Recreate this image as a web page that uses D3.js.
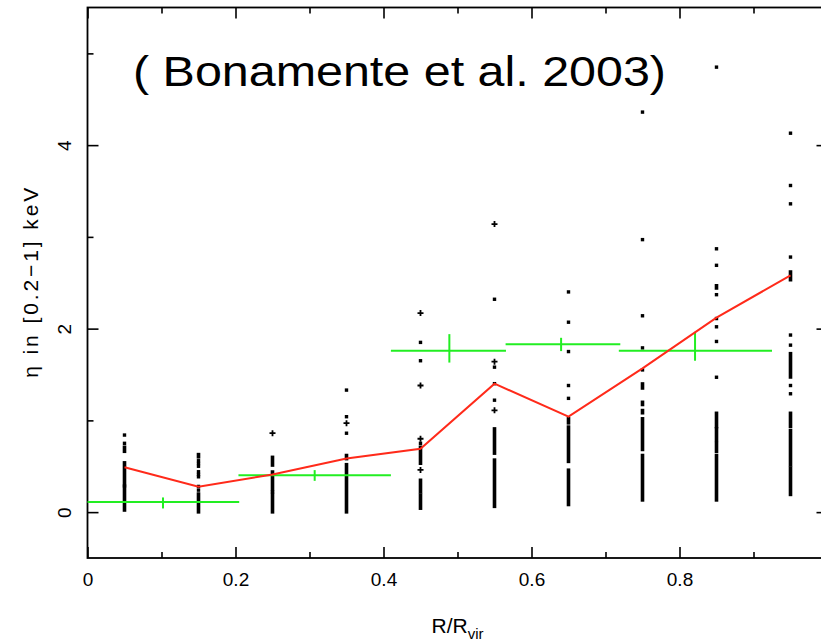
<!DOCTYPE html>
<html>
<head>
<meta charset="utf-8">
<script src="https://d3js.org/d3.v7.min.js"></script>
<style>
  body { margin: 0; background: #fff; }
  svg { display: block; }
</style>
</head>
<body>
<div id="viz"></div>
<script>
// bin centres in R/Rvir
const columns = [0.05, 0.15, 0.25, 0.35, 0.45, 0.55, 0.65, 0.75, 0.85, 0.95];

// single points for each column (value of eta)
const colPoints = [
  [0.84, 0.75, 0.285],
  [0.56, 0.53, 0.50, 0.44, 0.41, 0.385, 0.28, 0.24],
  [0.22],
  [1.33, 1.04, 0.86],
  [1.85, 1.65, 0.75],
  [2.32, 1.58, 1.40, 1.22],
  [2.40, 2.07, 1.75, 1.38, 1.24],
  [4.36, 2.97, 2.14, 1.79, 1.55],
  [4.85, 2.87, 2.69, 2.37, 2.11, 2.02, 1.86, 1.47],
  [4.13, 3.56, 3.36, 2.78, 1.93, 1.82, 1.38, 1.29]
];
// points drawn with a "+" symbol
const colPlus = [
  [],
  [],
  [0.86],
  [0.97],
  [2.17, 1.38, 0.80, 0.46],
  [3.14, 1.64, 1.11],
  [],
  [],
  [],
  []
];
// dense runs of points [low, high]
const colRuns = [
  [[0.66, 0.71], [0.30, 0.54], [0.02, 0.27]],
  [[0.60, 0.63], [0.0, 0.20]],
  [[0.51, 0.60], [0.24, 0.44], [0.0, 0.20]],
  [[0.58, 0.62], [0.0, 0.52]],
  [[0.53, 0.71], [0.22, 0.35], [0.04, 0.19]],
  [[0.64, 0.91], [0.06, 0.57]],
  [[0.97, 1.02], [0.55, 0.93], [0.08, 0.46]],
  [[1.35, 1.40], [1.17, 1.20], [1.08, 1.11], [0.68, 1.02], [0.13, 0.62]],
  [[2.44, 2.47], [0.93, 1.08], [0.78, 0.91], [0.66, 0.75], [0.13, 0.62]],
  [[2.53, 2.62], [1.47, 1.73], [0.93, 1.08], [0.51, 0.89], [0.19, 0.48]]
];

// red curve (mean per bin)
const meanX = [0.05, 0.15, 0.25, 0.35, 0.45, 0.55, 0.65, 0.75, 0.85, 0.95];
const meanY = [0.49, 0.276, 0.41, 0.585, 0.69, 1.40, 1.04, 1.566, 2.12, 2.58];

// green measurements (Bonamente et al. 2003)
const obsX = [0.102, 0.307, 0.489, 0.64, 0.821];
const obsXLo = [0.0, 0.204, 0.41, 0.565, 0.718];
const obsXHi = [0.205, 0.41, 0.5655, 0.72, 0.925];
const obsY = [0.11, 0.403, 1.76, 1.83, 1.76];
const obsYLo = [0.04, 0.341, 1.63, 1.755, 1.65];
const obsYHi = [0.16, 0.458, 1.94, 1.90, 1.965];

// axis ticks (the tick at 1 sits just past the right edge, no label shown)
const xMajor = [0, 0.2, 0.4, 0.6, 0.8, 1.0];
const xMajorLabels = ["0", "0.2", "0.4", "0.6", "0.8", ""];
const xMinor = [0.1, 0.3, 0.5, 0.7, 0.9];
const yMajor = [0, 2, 4];
const yMajorLabels = ["0", "2", "4"];
const yMinor = [1, 3, 5];

const width = 821;
const height = 643;
const axisFont = "'Liberation Sans', Arial, sans-serif";

const svg = d3.select('#viz')
  .append('svg')
  .attr('width', width)
  .attr('height', height);

const x = d3.scaleLinear().domain([0, 1]).range([87.5, 827.5]);
const y = d3.scaleLinear().domain([-0.5, 5.5]).range([558, 7.5]);

// ticks on all four sides, pointing inwards
const drawAxis = (axisFn, pos, values, size, labels) => {
  const ax = axisFn.tickValues(values).tickSize(-size)
    .tickFormat((d, i) => labels ? labels[i] : '');
  const g = svg.append('g').attr('transform', pos).call(ax);
  g.select('.domain').remove();
  g.selectAll('.tick line').attr('stroke', '#000').attr('stroke-width', 1.6);
  g.selectAll('text').attr('fill', '#000').style('font-family', axisFont).style('font-size', '19px');
  return g;
};

const bottom = drawAxis(d3.axisBottom(x), `translate(0,${y(-0.5)})`, xMajor, 11, xMajorLabels);
bottom.selectAll('text').attr('dy', null).attr('y', 28);
drawAxis(d3.axisBottom(x), `translate(0,${y(-0.5)})`, xMinor, 6);
drawAxis(d3.axisTop(x), `translate(0,${y(5.5)})`, xMajor, 11);
drawAxis(d3.axisTop(x), `translate(0,${y(5.5)})`, xMinor, 6);

const left = drawAxis(d3.axisLeft(y), `translate(${x(0)},0)`, yMajor, 11, yMajorLabels);
left.selectAll('text')
  .attr('x', null).attr('dy', null)
  .attr('text-anchor', 'middle')
  .attr('transform', 'translate(-17,0) rotate(-90)');
drawAxis(d3.axisLeft(y), `translate(${x(0)},0)`, yMinor, 6);
drawAxis(d3.axisRight(y), `translate(${x(1)},0)`, yMajor, 11);
drawAxis(d3.axisRight(y), `translate(${x(1)},0)`, yMinor, 6);

// frame
svg.append('rect')
  .attr('x', x(0)).attr('y', y(5.5))
  .attr('width', x(1) - x(0)).attr('height', y(-0.5) - y(5.5))
  .attr('fill', 'none').attr('stroke', '#000').attr('stroke-width', 1.8);

// scatter columns
const pts = svg.append('g').attr('fill', '#000');
columns.forEach((cx, i) => {
  colRuns[i].forEach(r => {
    pts.append('rect')
      .attr('x', x(cx) - 1.8).attr('width', 3.6)
      .attr('y', y(r[1]) - 1.5).attr('height', y(r[0]) - y(r[1]) + 3);
  });
  colPoints[i].forEach(v => {
    pts.append('rect')
      .attr('x', x(cx) - 1.7).attr('y', y(v) - 1.7)
      .attr('width', 3.4).attr('height', 3.4);
  });
  colPlus[i].forEach(v => {
    pts.append('path')
      .attr('d', `M${x(cx) - 3},${y(v)}h6M${x(cx)},${y(v) - 3}v6`)
      .attr('stroke', '#000').attr('stroke-width', 1.8);
  });
});

// green data with error bars
const obs = svg.append('g').attr('stroke', '#22ee22').attr('stroke-width', 2);
obsX.forEach((v, i) => {
  obs.append('line')
    .attr('x1', x(obsXLo[i])).attr('x2', x(obsXHi[i]))
    .attr('y1', y(obsY[i])).attr('y2', y(obsY[i]));
  obs.append('line')
    .attr('x1', x(v)).attr('x2', x(v))
    .attr('y1', y(obsYLo[i])).attr('y2', y(obsYHi[i]));
});

// red line
const line = d3.line().x((d, i) => x(meanX[i])).y(d => y(d));
svg.append('path')
  .datum(meanY)
  .attr('d', line)
  .attr('fill', 'none')
  .attr('stroke', '#ff2a1a')
  .attr('stroke-width', 2);

// axis titles
svg.append('text')
  .attr('transform', `translate(38,${(y(-0.5) + y(5.5)) / 2}) rotate(-90)`)
  .attr('text-anchor', 'middle')
  .attr('textLength', 190)
  .attr('lengthAdjust', 'spacing')
  .style('font-family', axisFont)
  .style('font-size', '21px')
  .text('η in [0.2−1] keV');

const xt = svg.append('text')
  .attr('x', (x(0) + x(1)) / 2)
  .attr('y', 633)
  .attr('text-anchor', 'middle')
  .style('font-family', axisFont)
  .style('font-size', '21px');
xt.append('tspan').text('R/R');
xt.append('tspan').attr('dy', 6).style('font-size', '15px').text('vir');

// citation
svg.append('text')
  .attr('x', 133)
  .attr('y', 86)
  .attr('textLength', 533)
  .attr('lengthAdjust', 'spacingAndGlyphs')
  .style('font-family', "'Liberation Sans', Arial, sans-serif")
  .style('font-size', '42px')
  .text('( Bonamente et al. 2003)');
</script>
</body>
</html>
